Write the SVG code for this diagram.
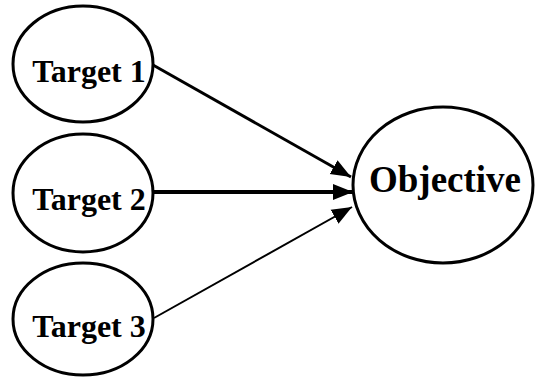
<svg xmlns="http://www.w3.org/2000/svg" width="535" height="378" viewBox="0 0 535 378">
<style>
.node ellipse{fill:#fff;stroke:#000;stroke-width:3}
.node text{font-family:"Liberation Serif","Times New Roman",serif;font-weight:bold;text-anchor:middle;fill:#000}
.t{font-size:32px}
.o{font-size:37px}
.conn line{stroke:#000;fill:none}
</style>
<defs>
<marker id="ah" markerUnits="userSpaceOnUse" markerWidth="22" markerHeight="18" refX="20" refY="8" orient="auto" viewBox="0 0 22 16">
<path d="M0,0 L20,8 L0,16 Z" fill="#000"/>
</marker>
</defs>
<g id="connectors" class="conn">
<line x1="153" y1="65" x2="351" y2="177" stroke-width="3" marker-end="url(#ah)"/>
<line x1="153" y1="192" x2="353" y2="192" stroke-width="4" marker-end="url(#ah)"/>
<line x1="154" y1="318" x2="352" y2="207" stroke-width="2" marker-end="url(#ah)"/>
</g>
<g id="target1" class="node">
<ellipse cx="83" cy="64" rx="70" ry="58"/>
<text class="t" x="89" y="82">Target 1</text>
</g>
<g id="target2" class="node">
<ellipse cx="83" cy="193" rx="70" ry="59"/>
<text class="t" x="89" y="210">Target 2</text>
</g>
<g id="target3" class="node">
<ellipse cx="83" cy="319" rx="70" ry="56"/>
<text class="t" x="89" y="337">Target 3</text>
</g>
<g id="objective" class="node">
<ellipse cx="443" cy="185" rx="90" ry="78"/>
<text class="o" x="445" y="192">Objective</text>
</g>
</svg>
